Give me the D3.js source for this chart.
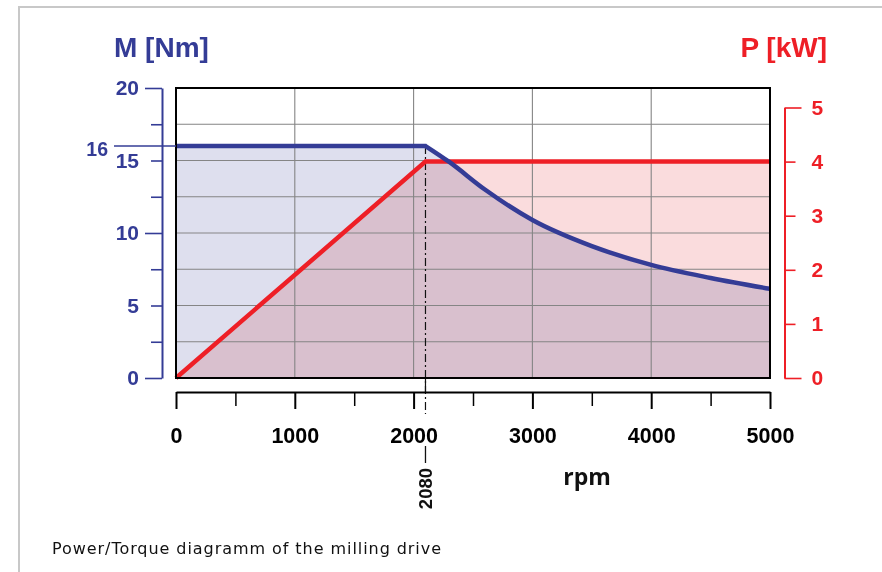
<!DOCTYPE html>
<html>
<head>
<meta charset="utf-8">
<script src="https://cdn.jsdelivr.net/npm/d3@7"></script>
<style>
  body { margin: 0; background: #fff; }
  svg { display: block; }
</style>
</head>
<body>
<svg id="chart"></svg>
<script>
// chart data
let rpmTicks = [0, 500, 1000, 1500, 2000, 2500, 3000, 3500, 4000, 4500, 5000];
let torqueTicks = [0, 2.5, 5, 7.5, 10, 12.5, 15, 17.5, 20];
let powerTicks = [0, 1, 2, 3, 4, 5];

let torqueRpm = [0, 2100, 2300, 2600, 3000, 3500, 4000, 4500, 5000];
let torqueNm = [16, 16, 14.9, 13.0, 10.9, 9.1, 7.8, 6.9, 6.15];
let powerRpm = [0, 2100, 5000];
let powerKw = [0, 4, 4];

let cornerRpm = 2100;
let cornerLabel = '2080';
let maxTorque = 16;

let width = 882;
let height = 572;

let blue = '#343c96';
let red = '#ee1f26';

let svg = d3.select('#chart').attr('width', width).attr('height', height);

let xScale = d3.scaleLinear().domain([0, 5000]).range([176, 770]);
let yScale = d3.scaleLinear().domain([0, 20]).range([378, 88]);
let pScale = d3.scaleLinear().domain([0, 5]).range([378, 107.5]);

// outer frame (left and top edge only are visible)
svg.append('path')
  .attr('d', 'M19,' + height + 'V7H' + width)
  .attr('fill', 'none')
  .attr('stroke', '#c8c8c8')
  .attr('stroke-width', 2);

let torque = torqueRpm.map((r, i) => ({ rpm: r, m: torqueNm[i] }));
let power = powerRpm.map((r, i) => ({ rpm: r, p: powerKw[i] }));

// fills
let plotBottom = yScale(0);

svg.append('path')
  .datum(power)
  .attr('fill', '#fadcdd')
  .attr('d', d3.area().x(d => xScale(d.rpm)).y0(plotBottom).y1(d => pScale(d.p)));

let flat = torque.filter(d => d.rpm <= cornerRpm);
let falling = torque.filter(d => d.rpm >= cornerRpm);
let curveLine = d3.line().x(d => xScale(d.rpm)).y(d => yScale(d.m)).curve(d3.curveMonotoneX);
let curveStr = curveLine(falling);

let torqueArea = 'M' + xScale(0) + ',' + plotBottom +
  'L' + xScale(flat[0].rpm) + ',' + yScale(flat[0].m) +
  'L' + curveStr.slice(1) +
  'L' + xScale(5000) + ',' + plotBottom + 'Z';

svg.append('path')
  .attr('d', torqueArea)
  .attr('fill', '#dedfee')
  .style('mix-blend-mode', 'multiply');

// grid
let grid = svg.append('g').attr('stroke', '#858585').attr('stroke-width', 1.1);
grid.selectAll('.hg')
  .data(torqueTicks.filter(t => t > 0 && t < 20))
  .enter()
  .append('line')
  .attr('x1', xScale(0)).attr('x2', xScale(5000))
  .attr('y1', d => yScale(d)).attr('y2', d => yScale(d));
grid.selectAll('.vg')
  .data([1000, 2000, 3000, 4000])
  .enter()
  .append('line')
  .attr('y1', yScale(20)).attr('y2', yScale(0))
  .attr('x1', d => xScale(d)).attr('x2', d => xScale(d));

// corner marker line
let cx = xScale(cornerRpm);
svg.append('line')
  .attr('x1', cx).attr('x2', cx)
  .attr('y1', yScale(maxTorque)).attr('y2', 414)
  .attr('stroke', '#111')
  .attr('stroke-width', 1.2)
  .attr('stroke-dasharray', '8,3,2,3');
svg.append('line')
  .attr('x1', cx).attr('x2', cx)
  .attr('y1', 378).attr('y2', 393)
  .attr('stroke', '#111')
  .attr('stroke-width', 1.2);

// power line
svg.append('path')
  .datum(power)
  .attr('fill', 'none')
  .attr('stroke', red)
  .attr('stroke-width', 4.5)
  .attr('stroke-linejoin', 'miter')
  .attr('d', d3.line().x(d => xScale(d.rpm)).y(d => pScale(d.p)));

// torque line
svg.append('path')
  .attr('d', 'M' + xScale(flat[0].rpm) + ',' + yScale(flat[0].m) + 'L' + curveStr.slice(1))
  .attr('fill', 'none')
  .attr('stroke', blue)
  .attr('stroke-width', 4.5)
  .attr('stroke-linejoin', 'miter');

// plot frame
svg.append('rect')
  .attr('x', xScale(0)).attr('y', yScale(20))
  .attr('width', xScale(5000) - xScale(0))
  .attr('height', yScale(0) - yScale(20))
  .attr('fill', 'none')
  .attr('stroke', '#000')
  .attr('stroke-width', 2);

let boldFont = '"Liberation Sans", Arial, sans-serif';

// left axis
let yAxis = d3.axisLeft(yScale)
  .tickValues(torqueTicks)
  .tickSizeInner(11)
  .tickSizeOuter(0)
  .tickFormat(d => d % 5 === 0 ? d : '');

let gy = svg.append('g')
  .attr('transform', 'translate(162, 0)')
  .call(yAxis);
gy.select('.domain').attr('stroke', blue).attr('stroke-width', 2);
gy.selectAll('.tick line')
  .attr('stroke', blue).attr('stroke-width', 1.6)
  .attr('x2', d => d % 10 === 0 ? -17 : -11);
gy.selectAll('.tick text')
  .attr('x', -23)
  .attr('fill', blue)
  .style('font-family', boldFont)
  .style('font-weight', 'bold')
  .style('font-size', '21px');

// 16 Nm marker
svg.append('line')
  .attr('x1', 114).attr('x2', xScale(0))
  .attr('y1', yScale(maxTorque)).attr('y2', yScale(maxTorque))
  .attr('stroke', blue).attr('stroke-width', 1.6);
svg.append('text')
  .attr('x', 108).attr('y', yScale(maxTorque) + 9.5)
  .attr('text-anchor', 'end')
  .attr('fill', blue)
  .style('font-family', boldFont)
  .style('font-weight', 'bold')
  .style('font-size', '19.5px')
  .text(maxTorque);

// right axis
let pAxis = d3.axisRight(pScale)
  .tickValues(powerTicks)
  .tickSizeInner(11)
  .tickSizeOuter(0)
  .tickFormat(d3.format('d'));

let gp = svg.append('g')
  .attr('transform', 'translate(784.5, 0)')
  .call(pAxis);
gp.select('.domain').attr('stroke', red).attr('stroke-width', 2);
gp.selectAll('.tick line')
  .attr('stroke', red).attr('stroke-width', 1.6)
  .attr('x2', d => (d === 0 || d === 5) ? 17 : 11);
gp.selectAll('.tick text')
  .attr('x', 27)
  .attr('fill', red)
  .attr('text-anchor', 'start')
  .style('font-family', boldFont)
  .style('font-weight', 'bold')
  .style('font-size', '21px');

// bottom axis
let xAxis = d3.axisBottom(xScale)
  .tickValues(rpmTicks)
  .tickSizeInner(17)
  .tickSizeOuter(0)
  .tickFormat(d => d % 1000 === 0 ? d : '');

let gx = svg.append('g')
  .attr('transform', 'translate(0, 392)')
  .call(xAxis);
gx.select('.domain').attr('stroke', '#000').attr('stroke-width', 2);
gx.selectAll('.tick line')
  .attr('stroke', '#000')
  .attr('stroke-width', d => d % 1000 === 0 ? 2 : 1.5)
  .attr('y2', d => d % 1000 === 0 ? 17 : 14);
gx.selectAll('.tick text')
  .attr('y', 51)
  .attr('dy', 0)
  .attr('fill', '#000')
  .style('font-family', boldFont)
  .style('font-weight', 'bold')
  .style('font-size', '21.5px');

// corner rpm label
svg.append('line')
  .attr('x1', cx).attr('x2', cx)
  .attr('y1', 446).attr('y2', 463)
  .attr('stroke', '#111').attr('stroke-width', 1.3);
svg.append('text')
  .attr('transform', 'translate(' + (cx + 7) + ', 468) rotate(-90)')
  .attr('text-anchor', 'end')
  .attr('fill', '#111')
  .style('font-family', boldFont)
  .style('font-weight', 'bold')
  .style('font-size', '18.5px')
  .text(cornerLabel);

// axis titles
svg.append('text')
  .attr('x', 114).attr('y', 57)
  .attr('fill', blue)
  .style('font-family', boldFont)
  .style('font-weight', 'bold')
  .style('font-size', '28px')
  .text('M [Nm]');

svg.append('text')
  .attr('x', 827).attr('y', 57)
  .attr('text-anchor', 'end')
  .attr('fill', red)
  .style('font-family', boldFont)
  .style('font-weight', 'bold')
  .style('font-size', '28px')
  .text('P [kW]');

svg.append('text')
  .attr('x', 587).attr('y', 485)
  .attr('text-anchor', 'middle')
  .attr('fill', '#111')
  .style('font-family', '"Open Sans", sans-serif')
  .style('font-weight', 700)
  .style('font-size', '23px')
  .text('rpm');

// caption
svg.append('text')
  .attr('x', 52).attr('y', 554)
  .attr('fill', '#111')
  .attr('textLength', 389)
  .attr('lengthAdjust', 'spacing')
  .style('font-family', '"DejaVu Sans", sans-serif')
  .style('font-size', '16px')
  .text('Power/Torque diagramm of the milling drive');
</script>
</body>
</html>
